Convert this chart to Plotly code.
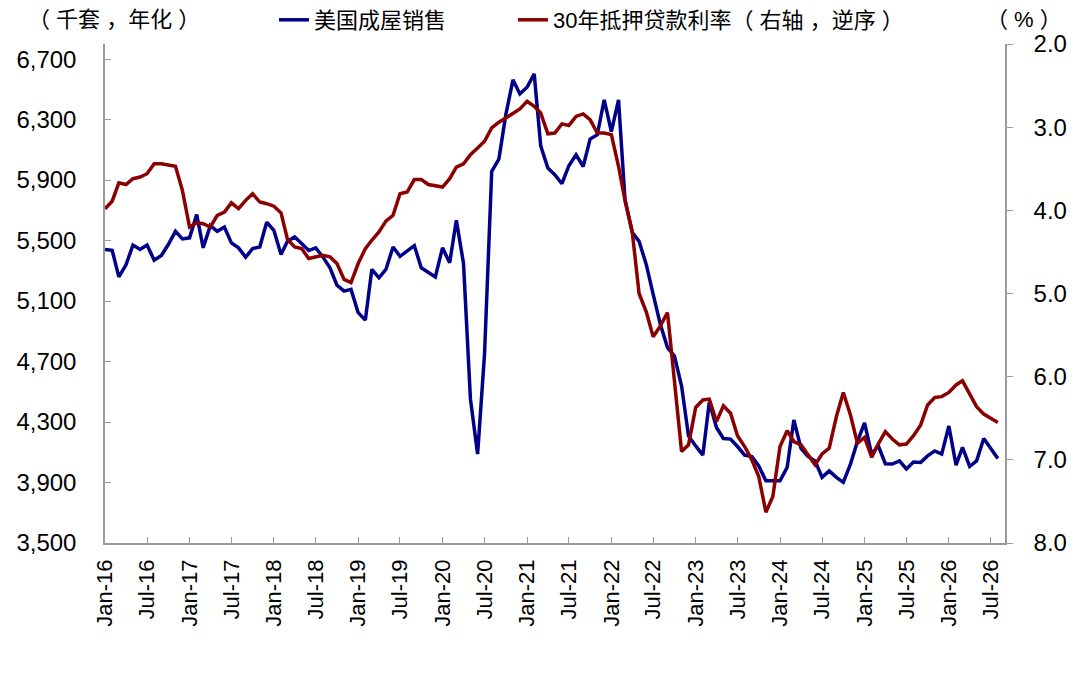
import pandas as pd
import plotly.graph_objects as go

# monthly points, first point sits on the Jan-16 tick
months = pd.date_range("2016-01-01", periods=128, freq="MS")

home_sales = [
    5441, 5436, 5260, 5340, 5470, 5441, 5470, 5370, 5401, 5474, 5561, 5511,
    5518, 5672, 5452, 5599, 5561, 5590, 5485, 5452, 5390, 5447, 5458, 5621,
    5568, 5408, 5495, 5524, 5480, 5434, 5452, 5392, 5320, 5205, 5166, 5177,
    5023, 4974, 5309, 5254, 5309, 5458, 5396, 5429, 5467, 5320, 5291, 5260,
    5452, 5353, 5634, 5348, 4451, 4088, 4750, 5957, 6039, 6332, 6563, 6470,
    6514, 6602, 6127, 5980, 5936, 5876, 5995, 6068, 5990, 6171, 6200, 6431,
    6221, 6431, 5771, 5555, 5495, 5342, 5144, 4946, 4792, 4737, 4538, 4208,
    4142, 4081, 4433, 4264, 4191, 4187, 4138, 4081, 4072, 4010, 3911, 3911,
    3911, 4000, 4314, 4125, 4072, 4043, 3934, 3977, 3934, 3901, 4022, 4170,
    4295, 4085, 4145, 4024, 4022, 4043, 3990, 4035, 4033, 4076, 4109, 4088,
    4274, 4015, 4132, 4006, 4043, 4191, 4125, 4059,
]

mortgage_rate = [
    3.98, 3.89, 3.67, 3.69, 3.62, 3.60, 3.56, 3.44, 3.44, 3.46, 3.47, 3.76,
    4.20, 4.15, 4.16, 4.20, 4.06, 4.02, 3.91, 3.98, 3.88, 3.80, 3.90, 3.92,
    3.95, 4.03, 4.35, 4.44, 4.46, 4.58, 4.56, 4.54, 4.56, 4.64, 4.83, 4.87,
    4.64, 4.46, 4.36, 4.26, 4.13, 4.06, 3.80, 3.78, 3.63, 3.63, 3.69, 3.70,
    3.72, 3.62, 3.48, 3.44, 3.33, 3.25, 3.17, 3.01, 2.94, 2.89, 2.83, 2.78,
    2.69, 2.75, 2.83, 3.08, 3.07, 2.96, 2.98, 2.87, 2.84, 2.91, 3.07, 3.07,
    3.09, 3.47, 3.88, 4.25, 5.00, 5.22, 5.52, 5.39, 5.23, 6.04, 6.90, 6.82,
    6.37, 6.28, 6.27, 6.54, 6.35, 6.44, 6.71, 6.84, 7.00, 7.20, 7.63, 7.44,
    6.84, 6.65, 6.78, 6.82, 6.94, 7.06, 6.93, 6.86, 6.48, 6.19, 6.46, 6.80,
    6.73, 6.97, 6.81, 6.66, 6.75, 6.82, 6.81, 6.71, 6.58, 6.34, 6.25, 6.24,
    6.19, 6.10, 6.05, 6.21, 6.36, 6.45, 6.50, 6.55,
]

left_ticks = [3500, 3900, 4300, 4700, 5100, 5500, 5900, 6300, 6700]
right_ticks = [2.0, 3.0, 4.0, 5.0, 6.0, 7.0, 8.0]
x_ticks = pd.date_range("2016-01-01", "2026-07-01", freq="6MS")

font_family = "Liberation Sans, Noto Sans CJK SC, sans-serif"
axis_grey = "#9a9a9a"

# the page body adds an 8px offset, so the figure is 8px smaller than the window
W, H = 1072, 671
top_row = 1 - 12 / H            # header row, container coords
top_row_paper = 1 + 24 / 499    # same row, paper coords

fig = go.Figure()
fig.add_trace(go.Scatter(
    x=months, y=home_sales, name="美国成屋销售", mode="lines",
    line=dict(color="#000088", width=3.5), legend="legend",
))
fig.add_trace(go.Scatter(
    x=months, y=mortgage_rate, name="30年抵押贷款利率（ 右轴 ，逆序 ）",
    mode="lines", yaxis="y2", legend="legend2",
    line=dict(color="#8B0000", width=3.5),
))

legend_style = dict(
    orientation="h", yref="container", y=top_row, yanchor="middle",
    xanchor="left", font=dict(size=22), bgcolor="rgba(0,0,0,0)",
    itemwidth=30,
)

fig.update_layout(
    width=W, height=H,
    margin=dict(l=97, r=75, t=36, b=136, autoexpand=False),
    paper_bgcolor="white", plot_bgcolor="white",
    font=dict(family=font_family, size=20, color="black"),
    showlegend=True,
    legend=dict(legend_style, x=0.1878),
    legend2=dict(legend_style, x=0.4533),
    xaxis=dict(
        range=["2016-01-01", "2026-09-01"],
        tickvals=x_ticks, tickformat="%b-%y", tickangle=-90,
        ticks="inside", ticklen=6, tickcolor=axis_grey,
        showline=True, linecolor=axis_grey, linewidth=1.5,
        showgrid=False, zeroline=False, automargin=False,
        tickfont=dict(size=22), ticklabelstandoff=6,
    ),
    yaxis=dict(
        range=[3500, 6800], tickvals=left_ticks, tickformat=",d",
        ticks="inside", ticklen=6, tickcolor=axis_grey,
        showline=True, linecolor=axis_grey, linewidth=1.5,
        showgrid=False, zeroline=False, automargin=False,
        tickfont=dict(size=24), ticklabelstandoff=22,
    ),
    yaxis2=dict(
        range=[8, 2], tickvals=right_ticks, tickformat=".1f",
        overlaying="y", side="right",
        ticks="outside", ticklen=6, tickcolor=axis_grey,
        showline=True, linecolor=axis_grey, linewidth=1.5,
        showgrid=False, zeroline=False, automargin=False,
        tickfont=dict(size=24), ticklabelstandoff=16,
    ),
    annotations=[
        dict(text="（ 千套 ，年化 ）", xref="paper", yref="paper",
             x=-0.0878, y=top_row_paper, xanchor="left", yanchor="middle",
             showarrow=False, font=dict(size=22)),
        dict(text="（ % ）", xref="paper", yref="paper",
             x=0.9767, y=top_row_paper, xanchor="left", yanchor="middle",
             showarrow=False, font=dict(size=22)),
    ],
)

fig.write_html("out.html")
